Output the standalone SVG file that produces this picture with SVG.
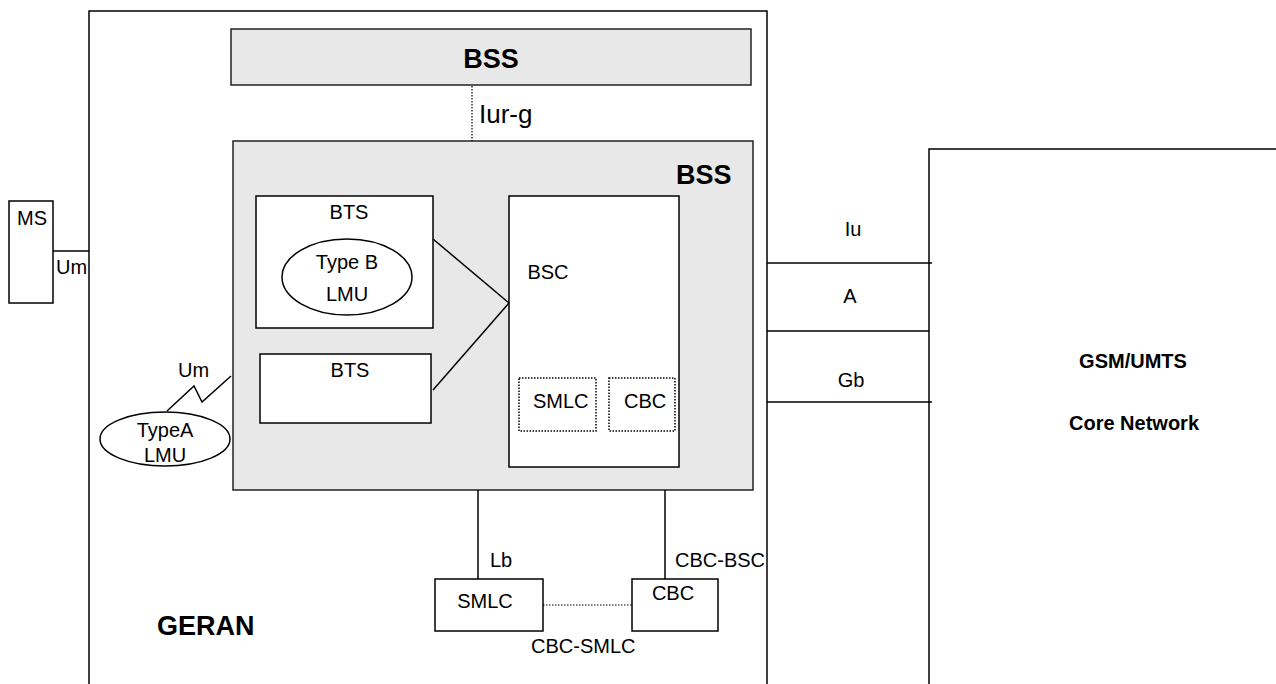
<svg xmlns="http://www.w3.org/2000/svg" width="1276" height="684" viewBox="0 0 1276 684">
<style>
  .box { fill: #ffffff; stroke: #000; stroke-width: 1.5; }
  .bss { fill: #e8e8e8; stroke: #222; stroke-width: 1.5; }
  .dot { fill: none; stroke: #000; stroke-width: 1.5; stroke-dasharray: 1.5 1.5; }
  .ln { fill: none; stroke: #000; stroke-width: 1.5; }
  .dl { fill: none; stroke: #000; stroke-width: 1.2; stroke-dasharray: 1.5 1.5; }
  text { font-family: "Liberation Sans", Arial, sans-serif; font-size: 20px; fill: #000; }
  .b { font-weight: bold; }
  .c { text-anchor: middle; }
</style>
<g id="geran">
  <path class="ln" d="M89,684 V11 H767 V684"/>
  <text class="b" x="157" y="635" font-size="27" style="font-size:27px">GERAN</text>
</g>
<g id="core-network">
  <path class="ln" d="M929,684 V149 H1276"/>
  <text class="b c" x="1133" y="368">GSM/UMTS</text>
  <text class="b c" x="1134" y="430">Core Network</text>
</g>
<g id="bss-top">
  <rect class="bss" x="231" y="29" width="520" height="56"/>
  <text class="b c" x="491" y="68" style="font-size:27px">BSS</text>
</g>
<g id="bss">
  <rect class="bss" x="233" y="141" width="520" height="349"/>
  <text class="b" x="676" y="184" style="font-size:27px">BSS</text>
</g>
<g id="bts1">
  <rect class="box" x="256" y="196" width="177" height="132"/>
  <text class="c" x="349" y="219">BTS</text>
</g>
<g id="typeb-lmu">
  <ellipse class="box" cx="347" cy="277" rx="65" ry="38"/>
  <text class="c" x="347" y="269">Type B</text>
  <text class="c" x="347" y="301">LMU</text>
</g>
<g id="bts2">
  <rect class="box" x="260" y="354" width="171" height="69"/>
  <text class="c" x="350" y="377">BTS</text>
</g>
<g id="bsc">
  <rect class="box" x="509" y="196" width="170" height="271"/>
  <text class="c" x="548" y="279">BSC</text>
</g>
<g id="smlc-internal">
  <rect class="dot" x="519" y="378" width="77" height="53"/>
  <text x="533" y="408">SMLC</text>
</g>
<g id="cbc-internal">
  <rect class="dot" x="609" y="378" width="66" height="53"/>
  <text x="624" y="408">CBC</text>
</g>
<g id="ms">
  <rect class="box" x="9" y="201" width="44" height="102"/>
  <text x="17" y="225">MS</text>
</g>
<g id="typea-lmu">
  <ellipse class="box" cx="165" cy="439" rx="65" ry="27"/>
  <text class="c" x="165" y="437">TypeA</text>
  <text class="c" x="165" y="462">LMU</text>
</g>
<g id="smlc">
  <rect class="box" x="435" y="579" width="108" height="52"/>
  <text class="c" x="485" y="608">SMLC</text>
</g>
<g id="cbc">
  <rect class="box" x="632" y="579" width="86" height="52"/>
  <text class="c" x="673" y="600">CBC</text>
</g>
<g id="connectors">
  <line class="dl" x1="472" y1="86" x2="472" y2="141"/>
  <text x="479" y="123" style="font-size:26px">Iur-g</text>
  <line class="ln" x1="433" y1="239" x2="509" y2="303"/>
  <line class="ln" x1="433" y1="390" x2="509" y2="303"/>
  <line class="ln" x1="53" y1="251" x2="89" y2="251"/>
  <text x="56" y="274">Um</text>
  <polyline class="ln" points="167,411 194,386 202,402 231,376"/>
  <text x="178" y="377">Um</text>
  <line class="ln" x1="478" y1="490" x2="478" y2="579"/>
  <text x="490" y="567">Lb</text>
  <line class="ln" x1="665" y1="490" x2="665" y2="579"/>
  <text x="675" y="567">CBC-BSC</text>
  <line class="dl" x1="543" y1="605" x2="632" y2="605"/>
  <text x="531" y="653">CBC-SMLC</text>
  <line class="ln" x1="767" y1="263" x2="932" y2="263"/>
  <text class="c" x="853" y="236">Iu</text>
  <line class="ln" x1="767" y1="331" x2="929" y2="331"/>
  <text class="c" x="850" y="303">A</text>
  <line class="ln" x1="767" y1="402" x2="932" y2="402"/>
  <text class="c" x="851" y="387">Gb</text>
</g>
</svg>
